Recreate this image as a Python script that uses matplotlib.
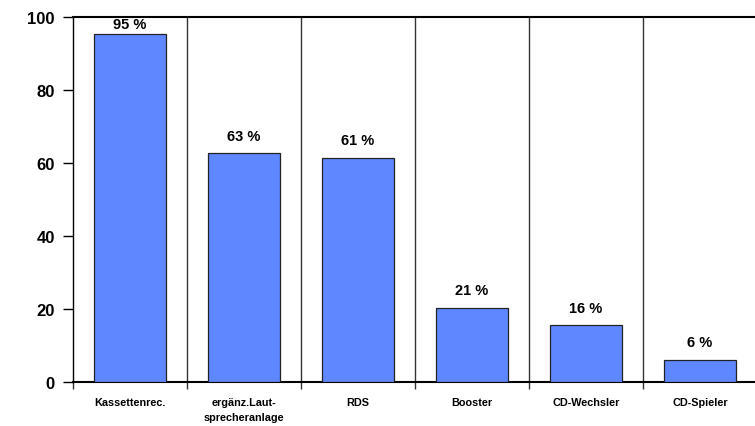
import matplotlib.pyplot as plt
import numpy as np

# Ausstattung: Anteil in Prozent
kategorien = ['Kassettenrec.', 'ergänz.Laut-\nsprecheranlage', 'RDS', 'Booster', 'CD-Wechsler', 'CD-Spieler']
werte = [95.3, 62.7, 61.4, 20.4, 15.6, 6.1]
beschriftung = ['95 %', '63 %', '61 %', '21 %', '16 %', '6 %']

plt.rcParams['font.family'] = ['Liberation Sans', 'DejaVu Sans']

fig = plt.figure(figsize=(7.55, 4.27), dpi=100)
ax = fig.add_axes([73 / 755, 44 / 427, 684 / 755, 365 / 427])

x = np.arange(len(kategorien))
ax.bar(x, werte, width=0.63, color='#5f87ff', edgecolor='#222222', linewidth=0.9, zorder=3)

for xi, w, t in zip(x, werte, beschriftung):
    ax.text(xi, min(w + 4.8, 98.0), t, ha='center', va='center',
            fontsize=10.5, fontweight='bold', zorder=4)

ax.set_xlim(-0.5, len(kategorien) - 0.5)
ax.set_ylim(0, 100)

# Trennlinien zwischen den Kategorien
grenzen = np.arange(len(kategorien) + 1) - 0.5
ax.set_xticks(grenzen)
ax.set_xticklabels([])
ax.set_xticks(x, minor=True)
ax.set_xticklabels(kategorien, minor=True, fontsize=7.8, fontweight='bold', linespacing=1.6)
ax.tick_params(axis='x', which='minor', length=0, pad=11)
ax.tick_params(axis='x', which='major', length=5, width=1, color='#333333')
for g in grenzen[1:-1]:
    ax.axvline(g, color='#333333', linewidth=1, zorder=1)

ax.set_yticks([0, 20, 40, 60, 80, 100])
ax.tick_params(axis='y', length=7, width=1, labelsize=12, pad=6)
for lab in ax.get_yticklabels():
    lab.set_fontweight('bold')

ax.spines['right'].set_visible(False)
ax.spines['top'].set_linewidth(1.5)
ax.spines['left'].set_linewidth(1)
ax.spines['bottom'].set_linewidth(1.5)

fig.savefig('out.png', dpi=100)
